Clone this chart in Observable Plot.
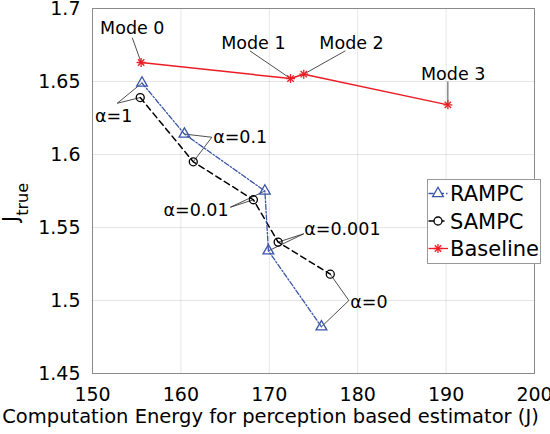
<!DOCTYPE html>
<html>
<head>
<meta charset="utf-8">
<script src="https://cdn.jsdelivr.net/npm/d3@7"></script>
<script src="https://cdn.jsdelivr.net/npm/@observablehq/plot@0.6"></script>
<style>
  html, body { margin: 0; padding: 0; background: white; }
  #chart svg { display: block; }
</style>
</head>
<body>
<div id="chart"></div>
<script>
// ---- data ----
const xTicks = [150, 160, 170, 180, 190, 200];
const yTicks = [1.45, 1.5, 1.55, 1.6, 1.65, 1.7];
const yTickLabels = ["1.45", "1.5", "1.55", "1.6", "1.65", "1.7"];

const seriesNames = ["RAMPC", "SAMPC", "Baseline"];

const rampcX = [155.6, 160.4, 169.5, 169.9, 175.9];
const rampcY = [1.649, 1.614, 1.575, 1.534, 1.482];
const sampcX = [155.4, 161.4, 168.2, 171.0, 176.9];
const sampcY = [1.639, 1.595, 1.569, 1.540, 1.518];
const baselineX = [155.5, 172.4, 173.9, 190.2];
const baselineY = [1.663, 1.652, 1.655, 1.634];

const modeLabels = ["Mode 0", "Mode 1", "Mode 2", "Mode 3"];
const modeLeaderX = [154.5, 167.8, 178.6, 190.2];
const modeLeaderY = [1.680, 1.671, 1.671, 1.650];
const modeTextX = [154.5, 168.2, 179.3, 190.8];
const modeTextY = [1.6827, 1.6722, 1.6722, 1.6507];

const alphaLabels = ["α=1", "α=0.1", "α=0.01", "α=0.001", "α=0"];
const alphaLeaderX = [152.8, 163.5, 165.6, 173.9, 179.0];
const alphaLeaderY = [1.6351, 1.6118, 1.5639, 1.5457, 1.500];
const alphaTextX = [152.4, 163.65, 165.4, 173.95, 179.15];
const alphaTextY = [1.6221, 1.6077, 1.5582, 1.5452, 1.4950];
const alphaTextAnchor = ["middle", "start", "end", "start", "start"];

const xLabel = "Computation Energy for perception based estimator (J)";

// ---- styles ----
const blue = "#3a55a8";
const red = "#ec1c24";
const black = "#000000";
const font = "DejaVu Sans";

// ---- tables ----
const rampc = rampcX.map((x, i) => ({x, y: rampcY[i]}));
const sampc = sampcX.map((x, i) => ({x, y: sampcY[i]}));
const baseline = baselineX.map((x, i) => ({x, y: baselineY[i]}));

const modeAnn = modeLabels.map((label, i) => ({
  label, lx: modeLeaderX[i], ly: modeLeaderY[i], tx: modeTextX[i], ty: modeTextY[i],
  px: baselineX[i], py: baselineY[i]
}));
const alphaAnn = alphaLabels.map((label, i) => ({
  label, lx: alphaLeaderX[i], ly: alphaLeaderY[i], tx: alphaTextX[i], ty: alphaTextY[i],
  anchor: alphaTextAnchor[i]
}));
const alphaLinks = [];
alphaAnn.forEach((a, i) => {
  alphaLinks.push({x1: a.lx, y1: a.ly, x2: rampcX[i], y2: rampcY[i]});
  alphaLinks.push({x1: a.lx, y1: a.ly, x2: sampcX[i], y2: sampcY[i]});
});

const chart = Plot.plot({
  width: 550,
  height: 434,
  marginLeft: 92,
  marginRight: 16,
  marginTop: 8,
  marginBottom: 61,
  style: {fontFamily: font, fontSize: "19px", background: "white", color: "black"},
  x: {domain: [150, 200], ticks: xTicks, tickFormat: d => String(d), label: null, tickSize: 0, tickPadding: 14},
  y: {domain: [1.45, 1.7], ticks: yTicks, tickFormat: d => yTickLabels[yTicks.indexOf(d)], label: null, tickSize: 0, tickPadding: 12},
  marks: [
    Plot.gridX(xTicks, {stroke: "#000", strokeOpacity: 0.1, strokeWidth: 1}),
    Plot.gridY(yTicks, {stroke: "#000", strokeOpacity: 0.1, strokeWidth: 1}),
    Plot.frame({stroke: "#8a8a8a", strokeWidth: 1}),
    // leader lines
    Plot.link(modeAnn, {x1: "lx", y1: "ly", x2: "px", y2: "py", stroke: "#222", strokeWidth: 0.8}),
    Plot.link(alphaLinks, {x1: "x1", y1: "y1", x2: "x2", y2: "y2", stroke: "#222", strokeWidth: 0.8}),
    // series lines
    Plot.line(sampc, {x: "x", y: "y", stroke: black, strokeWidth: 1.5, strokeDasharray: "6,4"}),
    Plot.line(rampc, {x: "x", y: "y", stroke: blue, strokeWidth: 1.3, strokeDasharray: "5,2,1.5,2"}),
    Plot.line(baseline, {x: "x", y: "y", stroke: red, strokeWidth: 1.5}),
    // markers
    Plot.dot(sampc, {x: "x", y: "y", r: 4, symbol: "circle", stroke: black, fill: "none", strokeWidth: 1.3}),
    Plot.dot(rampc, {x: "x", y: "y", r: 4, symbol: "triangle", stroke: blue, fill: "none", strokeWidth: 1.3}),
    Plot.dot(baseline, {x: "x", y: "y", r: 3, symbol: "plus", stroke: red, strokeWidth: 1.3}),
    Plot.dot(baseline, {x: "x", y: "y", r: 3, symbol: "times", stroke: red, strokeWidth: 1.3}),
    // annotation texts
    Plot.text(modeAnn, {x: "tx", y: "ty", text: "label", textAnchor: "middle", lineAnchor: "bottom", fontSize: 17.5, fill: "black"}),
    ...["middle", "start", "end"].map(anc =>
      Plot.text(alphaAnn.filter(a => a.anchor === anc), {x: "tx", y: "ty", text: "label", textAnchor: anc, lineAnchor: "bottom", fontSize: 17.5, fill: "black"})
    ),
    // x axis label
    Plot.text([xLabel], {frameAnchor: "bottom", dx: -43, dy: 49, lineAnchor: "bottom", fontSize: 19.5, fill: "black"})
  ]
});

document.getElementById("chart").appendChild(chart);

// ---- y label with subscript ----
const svg = d3.select(chart);
const yl = svg.append("text")
  .attr("transform", "translate(18,222) rotate(-90)")
  .attr("text-anchor", "start")
  .attr("fill", "black")
  .style("font-family", font);
yl.append("tspan").style("font-size", "21px").text("J");
yl.append("tspan").attr("dy", 9.5).style("font-size", "16px").text("true");

// ---- legend ----
const legendRows = [
  {name: seriesNames[0], color: blue, dash: "5,2,1.5,2", symbols: [d3.symbolTriangle], r: 4, width: 1.3},
  {name: seriesNames[1], color: black, dash: "6,4", symbols: [d3.symbolCircle], r: 4, width: 1.3},
  {name: seriesNames[2], color: red, dash: null, symbols: [d3.symbolPlus, d3.symbolTimes], r: 3, width: 1.3}
];
const lg = svg.append("g");
lg.append("rect")
  .attr("x", 427.5).attr("y", 179.5).attr("width", 113).attr("height", 84)
  .attr("fill", "white").attr("stroke", "#999").attr("stroke-width", 1);
legendRows.forEach((row, i) => {
  const y = 193.5 + i * 27.5;
  const ln = lg.append("line")
    .attr("x1", 428.5).attr("x2", 448).attr("y1", y).attr("y2", y)
    .attr("stroke", row.color).attr("stroke-width", row.width);
  if (row.dash) ln.attr("stroke-dasharray", row.dash);
  row.symbols.forEach(s => {
    lg.append("path")
      .attr("d", d3.symbol().type(s).size(Math.PI * row.r * row.r)())
      .attr("transform", `translate(438,${y})`)
      .attr("fill", "white").attr("fill-opacity", s === d3.symbolPlus || s === d3.symbolTimes ? 0 : 1)
      .attr("stroke", row.color).attr("stroke-width", row.width);
  });
  lg.append("text")
    .attr("x", 450).attr("y", y).attr("dy", "0.36em")
    .attr("text-anchor", "start").attr("fill", "black")
    .style("font-family", font).style("font-size", "21px")
    .text(row.name);
});
</script>
</body>
</html>
